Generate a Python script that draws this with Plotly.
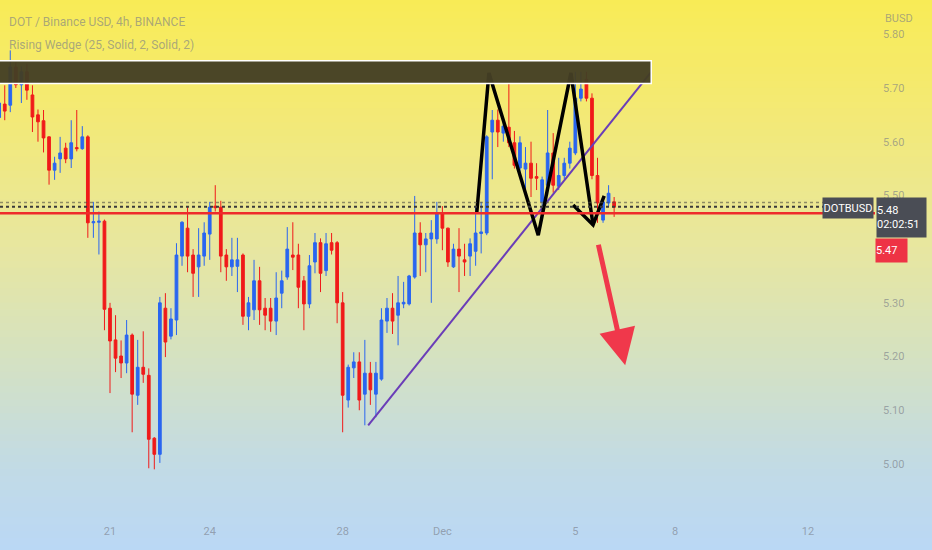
import numpy as np
import pandas as pd
import plotly.graph_objects as go

# DOT / BUSD, 4h candles starting 17 Nov 2022 16:00
start = pd.Timestamp('2022-11-17 16:00')

opens = [5.645, 5.670, 5.668, 5.739, 5.706, 5.730, 5.687, 5.650, 5.639, 5.609,
         5.547, 5.568, 5.588, 5.568, 5.589, 5.587, 5.609, 5.449, 5.450, 5.452,
         5.290, 5.231, 5.201, 5.188, 5.240, 5.128, 5.180, 5.165, 5.048, 5.018,
         5.290, 5.238, 5.268, 5.387, 5.439, 5.389, 5.367, 5.387, 5.428, 5.480,
         5.478, 5.389, 5.367, 5.368, 5.389, 5.275, 5.287, 5.341, 5.290, 5.290,
         5.266, 5.318, 5.348, 5.389, 5.389, 5.341, 5.298, 5.376, 5.412, 5.360,
         5.412, 5.412, 5.300, 5.119, 5.179, 5.190, 5.130, 5.169, 5.130, 5.158,
         5.266, 5.290, 5.277, 5.298, 5.298, 5.348, 5.430, 5.408, 5.419, 5.419,
         5.467, 5.439, 5.367, 5.400, 5.380, 5.387, 5.396, 5.429, 5.430, 5.618,
         5.640, 5.616, 5.627, 5.598, 5.551, 5.549, 5.560, 5.535, 5.488, 5.519,
         5.579, 5.517, 5.537, 5.560, 5.579, 5.681, 5.716, 5.681, 5.537, 5.454,
         5.486, 5.488]
highs = [5.680, 5.705, 5.770, 5.748, 5.740, 5.745, 5.705, 5.660, 5.659, 5.610,
         5.572, 5.609, 5.598, 5.640, 5.659, 5.629, 5.612, 5.488, 5.470, 5.455,
         5.300, 5.277, 5.230, 5.268, 5.243, 5.231, 5.247, 5.178, 5.050, 5.311,
         5.318, 5.290, 5.411, 5.452, 5.478, 5.400, 5.439, 5.450, 5.488, 5.519,
         5.490, 5.400, 5.421, 5.421, 5.392, 5.311, 5.380, 5.367, 5.309, 5.309,
         5.357, 5.360, 5.441, 5.450, 5.410, 5.350, 5.389, 5.430, 5.420, 5.430,
         5.430, 5.415, 5.320, 5.185, 5.208, 5.208, 5.231, 5.190, 5.190, 5.290,
         5.309, 5.318, 5.350, 5.339, 5.352, 5.499, 5.450, 5.430, 5.454, 5.488,
         5.480, 5.440, 5.410, 5.439, 5.410, 5.420, 5.478, 5.488, 5.612, 5.659,
         5.660, 5.640, 5.709, 5.620, 5.610, 5.590, 5.600, 5.560, 5.535, 5.659,
         5.616, 5.570, 5.570, 5.600, 5.730, 5.730, 5.730, 5.690, 5.570, 5.490,
         5.519, 5.497]
lows = [5.630, 5.640, 5.655, 5.700, 5.672, 5.678, 5.618, 5.600, 5.580, 5.520,
        5.529, 5.542, 5.560, 5.551, 5.582, 5.585, 5.421, 5.421, 5.390, 5.249,
        5.132, 5.171, 5.160, 5.169, 5.059, 5.110, 5.151, 4.992, 4.990, 5.002,
        5.199, 5.232, 5.240, 5.369, 5.357, 5.311, 5.311, 5.369, 5.380, 5.470,
        5.357, 5.341, 5.350, 5.320, 5.259, 5.249, 5.268, 5.259, 5.249, 5.246,
        5.240, 5.290, 5.343, 5.361, 5.290, 5.249, 5.290, 5.355, 5.320, 5.350,
        5.390, 5.262, 5.059, 5.105, 5.160, 5.100, 5.072, 5.110, 5.087, 5.155,
        5.244, 5.242, 5.221, 5.290, 5.295, 5.345, 5.350, 5.357, 5.300, 5.410,
        5.398, 5.367, 5.365, 5.320, 5.350, 5.350, 5.369, 5.392, 5.426, 5.530,
        5.590, 5.600, 5.590, 5.550, 5.540, 5.497, 5.497, 5.510, 5.470, 5.500,
        5.505, 5.510, 5.530, 5.550, 5.575, 5.675, 5.675, 5.530, 5.449, 5.449,
        5.480, 5.460]
closes = [5.672, 5.657, 5.739, 5.706, 5.730, 5.696, 5.646, 5.637, 5.607, 5.547,
          5.560, 5.579, 5.568, 5.598, 5.587, 5.609, 5.449, 5.451, 5.452, 5.288,
          5.229, 5.197, 5.188, 5.240, 5.130, 5.180, 5.167, 5.046, 5.018, 5.300,
          5.227, 5.270, 5.389, 5.450, 5.387, 5.355, 5.389, 5.430, 5.478, 5.477,
          5.387, 5.367, 5.380, 5.380, 5.275, 5.300, 5.341, 5.287, 5.277, 5.266,
          5.309, 5.341, 5.400, 5.385, 5.329, 5.298, 5.369, 5.412, 5.355, 5.410,
          5.398, 5.300, 5.128, 5.180, 5.190, 5.119, 5.169, 5.138, 5.169, 5.268,
          5.290, 5.266, 5.300, 5.301, 5.350, 5.430, 5.408, 5.419, 5.430, 5.467,
          5.439, 5.376, 5.400, 5.387, 5.376, 5.410, 5.430, 5.432, 5.609, 5.640,
          5.618, 5.629, 5.598, 5.556, 5.598, 5.560, 5.532, 5.532, 5.529, 5.579,
          5.519, 5.537, 5.560, 5.588, 5.681, 5.698, 5.681, 5.537, 5.486, 5.488,
          5.504, 5.478]
times = pd.date_range(start, periods=len(opens), freq='4h')

# 5.40 sits under the red price tag, so it is not drawn
price_ticks = [5.00, 5.10, 5.20, 5.30, 5.50, 5.60, 5.70, 5.80]
date_ticks = ['2022-11-21', '2022-11-24', '2022-11-28', '2022-12-01',
              '2022-12-05', '2022-12-08', '2022-12-12']
date_labels = ['21', '24', '28', 'Dec', '5', '8', '12']

# chart drawings, as (candle index, price)
m_idx = [86.2, 88.4, 97.3, 103.2, 107.2]
m_price = [5.467, 5.728, 5.426, 5.728, 5.445]
hook_idx = [103.6, 107.2, 109.2]
hook_price = [5.482, 5.445, 5.499]
wedge_idx = [66.6, 117.7]
wedge_price = [5.072, 5.730]
zone_low, zone_high, zone_end = 5.7085, 5.7506, 117.7
arrow_idx = [108.1, 113.0]
arrow_price = [5.411, 5.184]
red_level = 5.467
last_price = 5.483

FONT = 'Roboto, sans-serif'
TXT = 'rgba(120,123,134,0.62)'
UP, DOWN = '#2a66f0', '#f01a1a'


def at(i):
    return start + pd.Timedelta(hours=4 * i)


fig = go.Figure()

# background gradient, yellow -> light blue (each band runs to the bottom,
# the next one is painted over it, so no seams)
stops = [0.0, 0.2, 0.45, 0.65, 0.85, 1.0]
rgb = np.array([[249, 236, 86], [244, 234, 116], [232, 231, 160],
                [213, 226, 194], [194, 219, 230], [186, 216, 246]])
n = 80
top_p, bot_p = 1.005, 1 - 552 / 515
for b in range(n):
    f = (b + 0.5) / n
    c = [int(np.interp(f, stops, rgb[:, j])) for j in range(3)]
    fig.add_shape(type='rect', xref='paper', yref='paper', layer='below',
                  x0=-0.01, x1=1.08, y0=bot_p,
                  y1=top_p - (top_p - bot_p) * b / n,
                  fillcolor='rgb(%d,%d,%d)' % tuple(c), line_width=0)

# resistance zone
fig.add_shape(type='rect', xref='x', yref='y', x0=at(-10), x1=at(zone_end),
              y0=zone_low, y1=zone_high, fillcolor='rgba(68,62,36,0.96)',
              line=dict(color='white', width=1.5))

# price lines
fig.add_shape(type='line', xref='paper', yref='y', x0=0, x1=1,
              y0=last_price + 0.004, y1=last_price + 0.004,
              line=dict(color='rgba(80,80,70,0.6)', width=1.5, dash='dot'))
fig.add_shape(type='line', xref='paper', yref='y', x0=0, x1=1,
              y0=last_price - 0.004, y1=last_price - 0.004,
              line=dict(color='#3a3a3a', width=2, dash='dot'))
fig.add_shape(type='line', xref='paper', yref='y', x0=0, x1=1,
              y0=red_level, y1=red_level,
              line=dict(color='#ee2b2b', width=2.5))

fig.add_trace(go.Candlestick(
    x=times, open=opens, high=highs, low=lows, close=closes,
    increasing=dict(line=dict(color=UP, width=1), fillcolor=UP),
    decreasing=dict(line=dict(color=DOWN, width=1), fillcolor=DOWN),
    hoverinfo='skip'))

fig.add_trace(go.Scatter(x=[at(i) for i in wedge_idx], y=wedge_price,
                         mode='lines', line=dict(color='#6a3db8', width=2),
                         hoverinfo='skip'))
fig.add_trace(go.Scatter(x=[at(i) for i in m_idx], y=m_price, mode='lines',
                         line=dict(color='black', width=3.5), hoverinfo='skip'))
fig.add_trace(go.Scatter(x=[at(i) for i in hook_idx], y=hook_price,
                         mode='lines', line=dict(color='black', width=3.5),
                         hoverinfo='skip'))

# down arrow
fig.add_annotation(x=at(arrow_idx[1]), y=arrow_price[1],
                   ax=at(arrow_idx[0]), ay=arrow_price[0],
                   xref='x', yref='y', axref='x', ayref='y', text='',
                   showarrow=True, arrowhead=2, arrowsize=1.45, arrowwidth=5,
                   arrowcolor='#f0384b')

# header text
fig.add_annotation(x=7 / 875, y=1 - 22 / 515, xref='paper', yref='paper',
                   text='DOT / Binance USD, 4h, BINANCE', showarrow=False,
                   xanchor='left', yanchor='middle',
                   font=dict(family=FONT, size=12, color=TXT))
fig.add_annotation(x=7 / 875, y=1 - 45 / 515, xref='paper', yref='paper',
                   text='Rising Wedge (25, Solid, 2, Solid, 2)', showarrow=False,
                   xanchor='left', yanchor='middle',
                   font=dict(family=FONT, size=12, color=TXT))
fig.add_annotation(x=883 / 875, y=1 - 18 / 515, xref='paper', yref='paper',
                   text='BUSD', showarrow=False, xanchor='left', yanchor='middle',
                   font=dict(family=FONT, size=11, color=TXT))

# price scale labels
fig.add_annotation(x=848 / 875, y=1 - 207.5 / 515, xref='paper', yref='paper',
                   text='DOTBUSD', showarrow=False, bgcolor='#4a4d55',
                   xanchor='center', yanchor='middle',
                   width=50, height=20, borderpad=0,
                   font=dict(family=FONT, size=11, color='white'))
fig.add_annotation(x=901.5 / 875, y=1 - 217 / 515, xref='paper', yref='paper',
                   text='5.48<br>02:02:51', showarrow=False, bgcolor='#4a4d55',
                   xanchor='center', yanchor='middle',
                   width=49, height=39, borderpad=0, align='left',
                   font=dict(family=FONT, size=11, color='white'))
fig.add_annotation(x=891.5 / 875, y=1 - 250 / 515, xref='paper', yref='paper',
                   text='5.47', showarrow=False, bgcolor='#ee3345',
                   xanchor='center', yanchor='middle',
                   width=31, height=23, borderpad=0, align='left',
                   font=dict(family=FONT, size=11, color='white'))

fig.update_layout(
    width=932, height=550,
    margin=dict(l=0, r=57, t=0, b=35),
    paper_bgcolor='rgb(186,216,246)',
    plot_bgcolor='rgba(0,0,0,0)',
    showlegend=False,
    hovermode=False,
    xaxis=dict(type='date', range=[at(0.144), at(158.09)],
               rangeslider=dict(visible=False), showgrid=False, zeroline=False,
               showline=False, ticks='', tickvals=date_ticks, ticktext=date_labels,
               ticklabelstandoff=8,
               tickfont=dict(family=FONT, size=11, color=TXT)),
    yaxis=dict(side='right', range=[4.905, 5.8638], showgrid=False,
               zeroline=False, showline=False, ticks='',
               tickvals=price_ticks, ticktext=['%.2f' % v for v in price_ticks],
               ticklabelstandoff=7,
               tickfont=dict(family=FONT, size=11, color=TXT)),
)

fig.write_html('out.html', config={'displayModeBar': False},
               post_script="document.body.style.margin='0px';")
